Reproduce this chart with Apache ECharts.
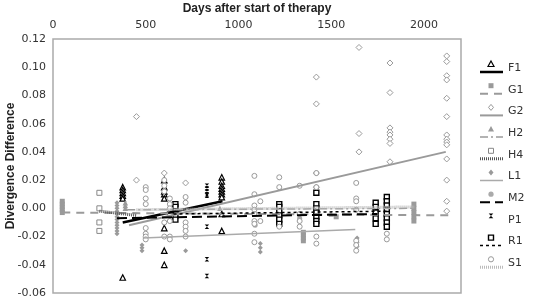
<!DOCTYPE html>
<html>
<head>
<meta charset="utf-8">
<script src="https://cdn.jsdelivr.net/npm/echarts@6/dist/echarts.min.js"></script>
<style>
  html, body { margin: 0; padding: 0; background: #fff; }
  #chart { width: 544px; height: 300px; }
</style>
</head>
<body>
<div id="chart"></div>
<script>
// x ticks / y ticks
let xTicks = [0, 500, 1000, 1500, 2000];
let yTicks = [-0.06, -0.04, -0.02, 0, 0.02, 0.04, 0.06, 0.08, 0.10, 0.12];
let patients = ['F1', 'G1', 'G2', 'H2', 'H4', 'L1', 'M2', 'P1', 'R1', 'S1'];

// points [day, divergence difference]
let f1Points = [[376,0.015],[376,0.013],[376,0.011],[376,0.009],[376,0.007],[376,-0.049],
  [600,0.020],[600,0.015],[600,0.012],[600,0.010],[600,0.007],[600,-0.014],[600,-0.030],[600,-0.040],
  [910,0.022],[910,0.019],[910,0.016],[910,0.014],[910,0.012],[910,0.010],[910,0.008],[910,-0.004],[910,-0.016]];
let g1Points = [[50,0.005],[50,0.003],[50,0.001],[50,-0.001],[50,-0.003],
  [1350,-0.017],[1350,-0.019],[1350,-0.021],[1350,-0.023],[1527,-0.006],
  [1946,0.003],[1946,0.000],[1946,-0.003],[1946,-0.006],[1946,-0.009]];
let g2Points = [[450,0.065],[450,0.020],[600,0.025],[715,0.018],
  [1420,0.093],[1420,0.074],[1420,0.025],[1420,0.015],
  [1650,0.114],[1650,0.053],[1650,0.040],
  [1817,0.103],[1817,0.082],[1817,0.057],[1817,0.054],[1817,0.052],[1817,0.049],[1817,0.046],[1817,0.033],
  [2123,0.108],[2123,0.104],[2123,0.094],[2123,0.091],[2123,0.078],[2123,0.065],[2123,0.052],[2123,0.049],
  [2123,0.047],[2123,0.045],[2123,0.035],[2123,0.020],[2123,0.005],[2123,-0.002]];
let h2Points = [[390,0.004],[390,0.002],[390,0.000],[900,0.000],[1500,-0.004]];
let h4Points = [[250,0.011],[250,0.000],[250,-0.010],[250,-0.016]];
let l1Points = [[345,0.004],[345,0.002],[345,0.000],[345,-0.002],[345,-0.004],[345,-0.006],[345,-0.008],
  [345,-0.010],[345,-0.012],[345,-0.014],[345,-0.016],[345,-0.018],
  [480,-0.026],[480,-0.028],[480,-0.030],[715,-0.030],
  [1118,-0.025],[1118,-0.028],[1118,-0.031],[1640,-0.021],[1640,-0.024],[1640,-0.027]];
let m2Points = [[1090,-0.012],[1330,-0.007],[1800,-0.003],[1800,-0.006]];
let p1Points = [[830,0.016],[830,0.014],[830,0.012],[830,0.010],[830,0.009],[830,-0.013],[830,-0.036],[830,-0.048]];
let r1Points = [[660,0.003],[660,0.001],[660,-0.002],[660,-0.005],[660,-0.008],
  [1220,0.003],[1220,0.001],[1220,-0.002],[1220,-0.005],[1220,-0.008],[1220,-0.011],
  [1420,0.011],[1420,0.003],[1420,0.000],[1420,-0.003],[1420,-0.006],[1420,-0.009],[1420,-0.011],
  [1740,0.004],[1740,0.001],[1740,-0.003],[1740,-0.007],[1740,-0.011],
  [1800,0.008],[1800,0.005],[1800,0.002],[1800,-0.001],[1800,-0.004],[1800,-0.007],[1800,-0.010],[1800,-0.013]];
let s1Points = [[500,0.015],[500,0.013],[500,0.007],[500,0.003],[500,-0.014],[500,-0.018],[500,-0.020],[500,-0.022],
  [600,0.020],[600,0.016],[600,0.012],[600,-0.010],[600,-0.020],
  [630,0.007],[630,0.003],[630,0.000],[630,-0.003],[630,-0.005],[630,-0.009],[630,-0.020],[630,-0.022],
  [715,0.008],[715,0.004],[715,-0.010],[715,-0.013],[715,-0.016],[715,-0.020],
  [1086,0.023],[1086,0.010],[1086,0.002],[1086,-0.001],[1086,-0.004],[1086,-0.009],[1086,-0.011],[1086,-0.018],[1086,-0.024],
  [1118,0.005],[1118,-0.009],
  [1220,0.022],[1220,0.015],[1220,-0.013],
  [1330,0.016],[1330,-0.004],[1330,-0.009],[1330,-0.013],
  [1420,0.025],[1420,0.015],[1420,-0.020],[1420,-0.025],
  [1635,0.018],[1635,0.007],[1635,0.005],[1635,-0.001],[1635,-0.023],[1635,-0.026],[1635,-0.030],
  [1800,-0.018],[1800,-0.022]];

// trend lines
let f1Trend = [[376,-0.010],[914,0.005]];
let g1Trend = [[50,-0.003],[2150,-0.005]];
let g2Trend = [[410,-0.012],[2118,0.040]];
let h2Trend = [[400,-0.001],[1950,0.000]];
let h4Trend = [[250,-0.002],[450,-0.005]];
let l1Trend = [[484,-0.021],[1630,-0.015]];
let m2Trend = [[345,-0.007],[1750,-0.004]];
let p1Trend = [];
let r1Trend = [[650,-0.004],[1800,-0.002]];
let s1Trend = [[450,-0.001],[1950,0.001]];

let hourglass = 'path://M0,0 L10,0 L0,10 L10,10 Z';
let gray = '#9a9a9a';

// marker style per patient
let markers = {
  F1: {symbol:'triangle', size:5.5, color:'#fff', border:'#000', bw:1.2},
  G1: {symbol:'rect', size:5, color:gray, border:gray, bw:0},
  G2: {symbol:'diamond', size:6, color:'#fff', border:gray, bw:1},
  H2: {symbol:'triangle', size:5.5, color:gray, border:gray, bw:0},
  H4: {symbol:'rect', size:5, color:'#fff', border:'#888', bw:1},
  L1: {symbol:'diamond', size:5, color:gray, border:gray, bw:0},
  M2: {symbol:'circle', size:5, color:'#aaa', border:'#aaa', bw:0},
  P1: {symbol:hourglass, size:4.5, color:'#000', border:'#000', bw:0},
  R1: {symbol:'rect', size:5, color:'#fff', border:'#000', bw:1.4},
  S1: {symbol:'circle', size:5, color:'#fff', border:gray, bw:1}
};
// trend line style per patient
let trends = {
  F1: {color:'#000', width:2.5, type:'solid'},
  G1: {color:gray, width:2, type:[8,6]},
  G2: {color:gray, width:2, type:'solid'},
  H2: {color:gray, width:1.5, type:[8,3,2,3]},
  H4: {color:'#555', width:3, type:[1,1]},
  L1: {color:'#aaa', width:1.5, type:'solid'},
  M2: {color:'#000', width:2, type:[10,5]},
  P1: {color:'#fff', width:0, type:'solid'},
  R1: {color:'#000', width:1.5, type:[3,3]},
  S1: {color:'#bbb', width:3, type:[1,1]}
};
let pointData = {F1:f1Points, G1:g1Points, G2:g2Points, H2:h2Points, H4:h4Points,
  L1:l1Points, M2:m2Points, P1:p1Points, R1:r1Points, S1:s1Points};
let trendData = {F1:f1Trend, G1:g1Trend, G2:g2Trend, H2:h2Trend, H4:h4Trend,
  L1:l1Trend, M2:m2Trend, P1:p1Trend, R1:r1Trend, S1:s1Trend};

let series = [];
patients.forEach(p => {
  let t = trends[p];
  series.push({
    name: p + ' trend', type: 'line', data: trendData[p], symbol: 'none',
    z: 3, silent: true,
    lineStyle: {color: t.color, width: t.width, type: t.type}
  });
});
patients.forEach(p => {
  let m = markers[p];
  series.push({
    name: p, type: 'scatter', data: pointData[p], symbol: m.symbol, symbolSize: m.size,
    z: 2,
    itemStyle: {color: m.color, borderColor: m.border, borderWidth: m.bw, opacity: 1}
  });
});

/**
* legend drawn Excel style: marker above the line sample, label on the right
*/
function legendMarker(m, cx, cy){
  let style = {fill: m.color, stroke: m.bw ? m.border : null, lineWidth: m.bw};
  let h = 3;
  if (m.symbol === 'circle') return {type:'circle', shape:{cx:cx, cy:cy, r:2.6}, style:style};
  if (m.symbol === 'rect') return {type:'rect', shape:{x:cx-2.5, y:cy-2.5, width:5, height:5}, style:style};
  if (m.symbol === 'triangle') return {type:'polygon', shape:{points:[[cx,cy-h],[cx+h,cy+h-0.5],[cx-h,cy+h-0.5]]}, style:style};
  if (m.symbol === 'diamond') return {type:'polygon', shape:{points:[[cx,cy-h],[cx+h-0.5,cy],[cx,cy+h],[cx-h+0.5,cy]]}, style:style};
  return {type:'polygon', shape:{points:[[cx-2.3,cy-2.3],[cx+2.3,cy-2.3],[cx-2.3,cy+2.3],[cx+2.3,cy+2.3]]}, style:style};
}
let legendGraphics = [];
patients.forEach((p, i) => {
  let ly = 68 + i * 21.7;
  let t = trends[p];
  if (t.width > 0) {
    legendGraphics.push({type:'line', shape:{x1:480, y1:ly+4, x2:503, y2:ly+4},
      style:{stroke:t.color, lineWidth:t.width, lineDash: t.type === 'solid' ? null : t.type}});
  }
  legendGraphics.push(legendMarker(markers[p], 491, ly - 4));
  legendGraphics.push({type:'text', x:508, y:ly,
    style:{text:p, fill:'#333', font:'11px "DejaVu Sans"', verticalAlign:'middle'}});
});

let labelFont = {color: '#333', fontSize: 11, fontFamily: 'DejaVu Sans'};

let option = {
  animation: false,
  backgroundColor: '#fff',
  grid: {left: 53, top: 39, right: 83, bottom: 7, show: true, borderColor: '#aaa', borderWidth: 1.5,
    containLabel: false, outerBoundsMode: 'none'},
  graphic: legendGraphics,
  xAxis: {
    type: 'value', position: 'top', min: 0, max: 2200, interval: 500,
    name: 'Days after start of therapy', nameLocation: 'middle', nameGap: 24, nameMoveOverlap: false,
    nameTextStyle: {fontSize: 12, fontWeight: 'bold', fontFamily: 'Liberation Sans', color: '#222'},
    axisLine: {show: false}, axisTick: {show: false}, splitLine: {show: false},
    axisLabel: Object.assign({showMaxLabel: false, margin: 8, formatter: v => String(v)}, labelFont)
  },
  yAxis: {
    type: 'value', min: -0.06, max: 0.12, interval: 0.02,
    name: 'Divergence Difference', nameLocation: 'middle', nameGap: 36, nameRotate: 90, nameMoveOverlap: false,
    nameTextStyle: {fontSize: 12, fontWeight: 'bold', fontFamily: 'Liberation Sans', color: '#222'},
    axisLine: {show: false}, axisTick: {show: false}, splitLine: {show: false},
    axisLabel: Object.assign({margin: 7, formatter: v => v.toFixed(2)}, labelFont)
  },
  series: series
};

let myChart = echarts.init(document.getElementById('chart'));
myChart.setOption(option);
</script>
</body>
</html>
